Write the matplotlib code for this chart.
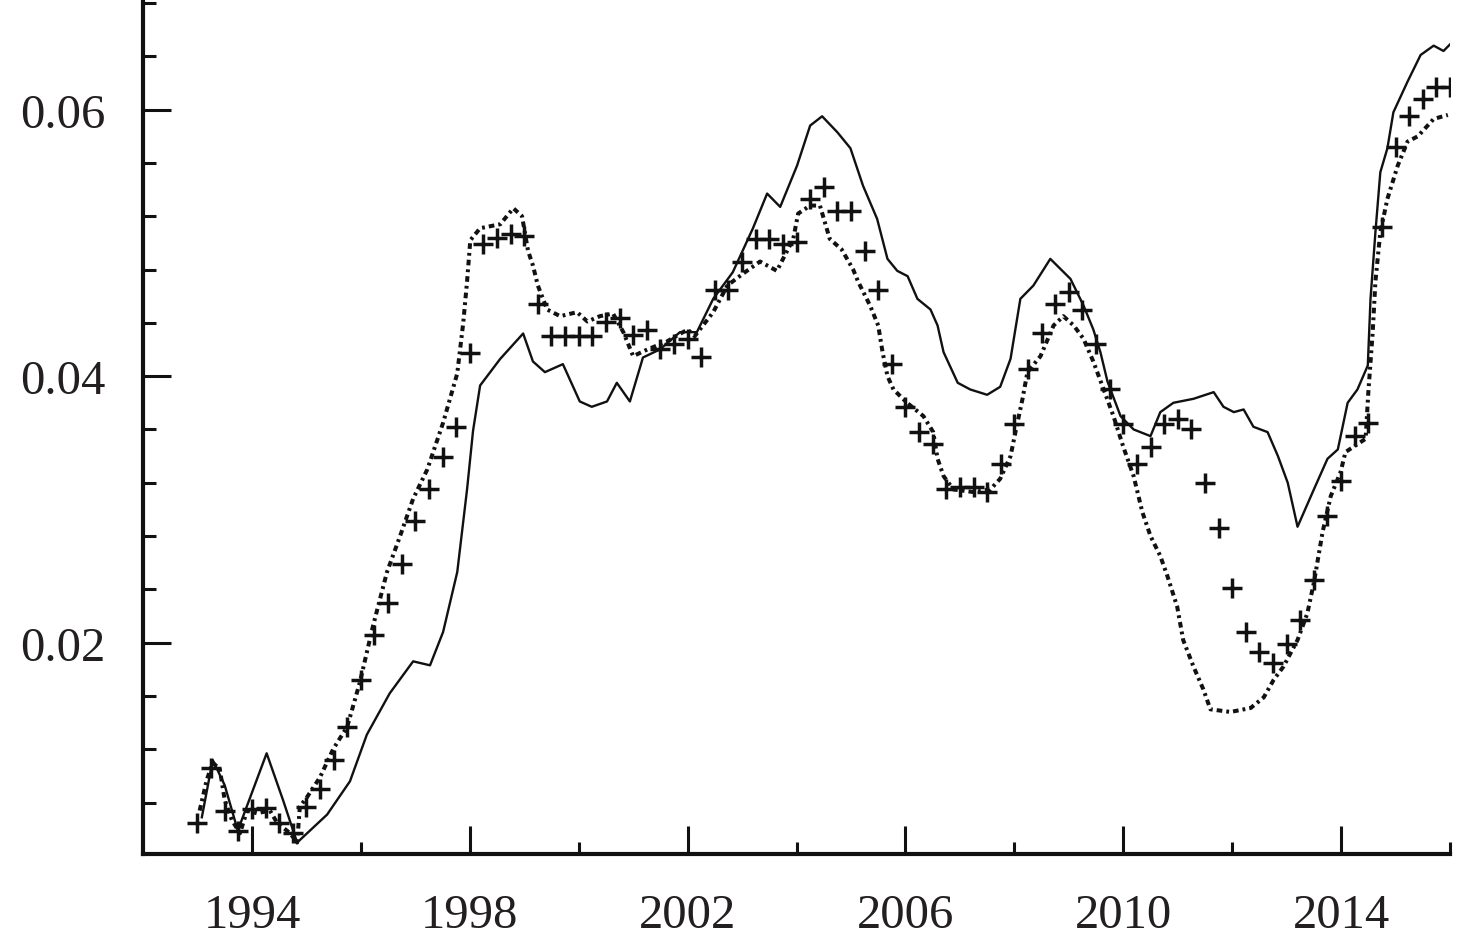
import numpy as np
import matplotlib
matplotlib.use('Agg')
import matplotlib.pyplot as plt

# solid line
solid_year = [1993.08, 1993.28, 1993.50, 1993.74, 1994.27, 1994.57, 1994.83,
              1995.38, 1995.80, 1996.11, 1996.53, 1996.96, 1997.27, 1997.51,
              1997.77, 1997.95, 1998.06, 1998.19, 1998.56, 1998.98, 1999.16,
              1999.38, 1999.71, 2000.02, 2000.24, 2000.52, 2000.70, 2000.94,
              2001.18, 2001.49, 2001.86, 2002.17, 2002.47, 2002.83, 2003.20,
              2003.46, 2003.70, 2004.01, 2004.25, 2004.47, 2004.75, 2004.99,
              2005.22, 2005.48, 2005.67, 2005.85, 2006.04, 2006.22, 2006.46,
              2006.59, 2006.70, 2006.96, 2007.19, 2007.50, 2007.74, 2007.93,
              2008.11, 2008.35, 2008.66, 2009.03, 2009.27, 2009.45, 2009.58,
              2009.71, 2009.95, 2010.19, 2010.50, 2010.68, 2010.92, 2011.29,
              2011.66, 2011.84, 2012.03, 2012.21, 2012.39, 2012.65, 2012.84,
              2013.02, 2013.20, 2013.50, 2013.75, 2013.94, 2014.12, 2014.30,
              2014.49, 2014.54, 2014.63, 2014.72, 2014.85, 2014.96, 2015.22,
              2015.46, 2015.70, 2015.88, 2016.05]
solid_val = [0.0069, 0.0112, 0.0093, 0.0059, 0.0117, 0.0082, 0.0050,
             0.0071, 0.0096, 0.0131, 0.0162, 0.0186, 0.0183, 0.0208,
             0.0253, 0.0315, 0.0359, 0.0393, 0.0413, 0.0432, 0.0411,
             0.0403, 0.0409, 0.0381, 0.0377, 0.0381, 0.0395, 0.0381,
             0.0414, 0.0420, 0.0433, 0.0433, 0.0458, 0.0478, 0.0511,
             0.0537, 0.0527, 0.0558, 0.0588, 0.0595, 0.0583, 0.0571,
             0.0543, 0.0518, 0.0488, 0.0479, 0.0475, 0.0458, 0.0450,
             0.0438, 0.0418, 0.0395, 0.0390, 0.0386, 0.0392, 0.0413,
             0.0458, 0.0468, 0.0488, 0.0473, 0.0453, 0.0435, 0.0418,
             0.0396, 0.0370, 0.0360, 0.0355, 0.0373, 0.0380, 0.0383,
             0.0388, 0.0377, 0.0373, 0.0375, 0.0362, 0.0358, 0.0340,
             0.0320, 0.0287, 0.0315, 0.0338, 0.0345, 0.0380, 0.0390,
             0.0408, 0.0458, 0.0508, 0.0553, 0.0571, 0.0598, 0.0621,
             0.0641, 0.0648, 0.0644, 0.0651]

# dotted line
dot_year = [1993.04, 1993.17, 1993.28, 1993.41, 1993.50, 1993.63, 1993.78,
            1993.91, 1994.09, 1994.33, 1994.46, 1994.70, 1994.83, 1994.88,
            1995.01, 1995.25, 1995.49, 1995.75, 1995.98, 1996.22, 1996.48,
            1996.72, 1996.96, 1997.22, 1997.51, 1997.77, 1997.88, 1997.95,
            1998.01, 1998.19, 1998.56, 1998.80, 1998.96, 1999.07, 1999.16,
            1999.25, 1999.42, 1999.66, 1999.97, 2000.16, 2000.39, 2000.63,
            2000.82, 2001.00, 2001.26, 2001.62, 2002.00, 2002.13, 2002.47,
            2002.73, 2003.02, 2003.33, 2003.64, 2003.94, 2004.03, 2004.25,
            2004.43, 2004.61, 2004.83, 2005.04, 2005.13, 2005.35, 2005.50,
            2005.58, 2005.67, 2005.78, 2006.03, 2006.33, 2006.51, 2006.59,
            2006.70, 2006.88, 2007.25, 2007.56, 2007.74, 2007.93, 2008.02,
            2008.15, 2008.24, 2008.48, 2008.72, 2008.90, 2009.09, 2009.27,
            2009.45, 2009.64, 2009.82, 2010.00, 2010.19, 2010.35, 2010.50,
            2010.68, 2010.81, 2010.99, 2011.10, 2011.29, 2011.47, 2011.60,
            2011.97, 2012.34, 2012.58, 2012.76, 2012.94, 2013.20, 2013.38,
            2013.50, 2013.66, 2013.81, 2013.99, 2014.08, 2014.45, 2014.50,
            2014.58, 2014.63, 2014.72, 2014.85, 2015.04, 2015.22, 2015.41,
            2015.70, 2015.96]
dot_val = [0.0074, 0.0097, 0.0110, 0.0105, 0.0082, 0.0067, 0.0057,
           0.0074, 0.0072, 0.0074, 0.0065, 0.0057, 0.0050, 0.0077,
           0.0084, 0.0099, 0.0120, 0.0137, 0.0170, 0.0212, 0.0253,
           0.0280, 0.0308, 0.0330, 0.0365, 0.0402, 0.0440, 0.0471,
           0.0502, 0.0511, 0.0514, 0.0526, 0.0520, 0.0494, 0.0483,
           0.0468, 0.0450, 0.0445, 0.0448, 0.0441, 0.0445, 0.0447,
           0.0433, 0.0415, 0.0420, 0.0426, 0.0435, 0.0430, 0.0448,
           0.0468, 0.0477, 0.0486, 0.0479, 0.0503, 0.0522, 0.0528,
           0.0528, 0.0503, 0.0495, 0.0480, 0.0471, 0.0453, 0.0438,
           0.0418, 0.0400, 0.0390, 0.0380, 0.0370, 0.0358, 0.0338,
           0.0325, 0.0315, 0.0313, 0.0315, 0.0323, 0.0340, 0.0358,
           0.0383, 0.0403, 0.0415, 0.0438, 0.0445, 0.0438, 0.0428,
           0.0411, 0.0390, 0.0370, 0.0347, 0.0325, 0.0298, 0.0280,
           0.0265, 0.0250, 0.0227, 0.0202, 0.0182, 0.0165, 0.0150,
           0.0148, 0.0151, 0.0159, 0.0172, 0.0182, 0.0202, 0.0222,
           0.0245, 0.0283, 0.0310, 0.0328, 0.0343, 0.0353, 0.0388,
           0.0433, 0.0471, 0.0508, 0.0533, 0.0558, 0.0576, 0.0580,
           0.0593, 0.0596]

# plus markers, quarterly from 1993 Q1
plus_start = 1993.0
plus_val = [0.0065, 0.0106, 0.0074, 0.0059, 0.0075, 0.0076, 0.0065, 0.0057,
            0.0077, 0.0090, 0.0112, 0.0137, 0.0172, 0.0206, 0.0230, 0.0259,
            0.0291, 0.0315, 0.0339, 0.0362, 0.0417, 0.0499, 0.0504, 0.0507,
            0.0505, 0.0454, 0.0430, 0.0430, 0.0430, 0.0430, 0.0441, 0.0444,
            0.0431, 0.0435, 0.0420, 0.0424, 0.0428, 0.0414, 0.0465, 0.0465,
            0.0486, 0.0503, 0.0503, 0.0499, 0.0501, 0.0533, 0.0542, 0.0524,
            0.0524, 0.0494, 0.0465, 0.0409, 0.0377, 0.0358, 0.0349, 0.0315,
            0.0317, 0.0317, 0.0313, 0.0334, 0.0364, 0.0405, 0.0432, 0.0454,
            0.0463, 0.0450, 0.0424, 0.0390, 0.0364, 0.0334, 0.0347, 0.0364,
            0.0368, 0.0360, 0.0320, 0.0286, 0.0241, 0.0208, 0.0193, 0.0185,
            0.0199, 0.0217, 0.0247, 0.0295, 0.0321, 0.0355, 0.0365, 0.0512,
            0.0572, 0.0595, 0.0608, 0.0617, 0.0617]

major_years = [1994, 1998, 2002, 2006, 2010, 2014]
minor_years = [1996, 2000, 2004, 2008, 2012, 2016]
major_y = [0.02, 0.04, 0.06]
y_labels = ['0.02', '0.04', '0.06']


def main() -> None:
    fig = plt.figure(figsize=(14.76, 9.45), dpi=100)
    ax = fig.add_axes([0.0969, 0.0952, 0.8855, 0.9048])

    ink = '#111111'
    ax.plot(solid_year, solid_val, color=ink, linewidth=1.7)
    # dense dash-dot, drawn as small square dots like the print
    ax.plot(dot_year, dot_val, color=ink, linewidth=2.9,
            linestyle=(0, (1.4, 1.0, 0.7, 1.0)), dash_capstyle='butt')
    plus_year = plus_start + 0.25 * np.arange(len(plus_val))
    ax.plot(plus_year, plus_val, linestyle='none', marker='+',
            markersize=15, markeredgewidth=2.5, color=ink)

    ax.set_xlim(1992, 2016)
    ax.set_ylim(0.00414, 0.0683)
    decorate(ax, ink)

    fig.savefig('out.png', dpi=100)


def decorate(ax, ink):
    """Axis styling: left and bottom spines only, inward ticks, serif labels."""
    for side in ['top', 'right']:
        ax.spines[side].set_visible(False)
    for side in ['left', 'bottom']:
        ax.spines[side].set_linewidth(3)
        ax.spines[side].set_color(ink)

    ax.set_xticks(major_years)
    ax.set_xticklabels([str(y) for y in major_years])
    ax.set_xticks(minor_years, minor=True)
    ax.set_yticks(major_y)
    ax.set_yticklabels(y_labels)
    ax.yaxis.set_minor_locator(plt.MultipleLocator(0.004))

    ax.tick_params(which='both', direction='in', width=2.2, color=ink,
                   labelcolor='#231f20')
    ax.tick_params(which='major', length=20, labelsize=35)
    ax.tick_params(which='minor', length=9)
    ax.tick_params(axis='x', which='major', pad=28)
    ax.tick_params(axis='y', which='major', pad=27)
    for label in ax.get_xticklabels() + ax.get_yticklabels():
        label.set_family('Liberation Serif')


if __name__ == '__main__':
    main()
